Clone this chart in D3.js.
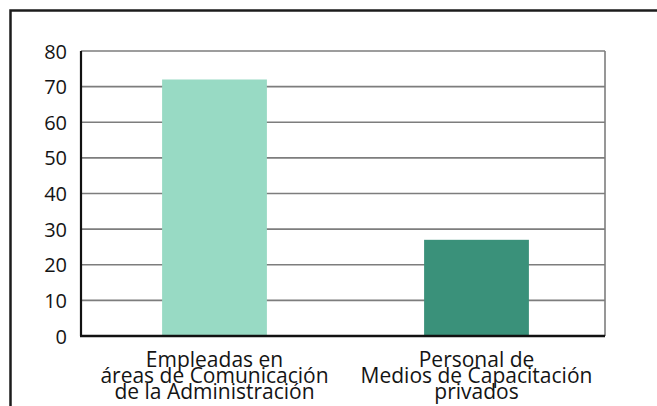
<!DOCTYPE html>
<html>
<head>
<meta charset="utf-8">
<script src="https://cdn.jsdelivr.net/npm/d3@7"></script>
<style>
  body { margin: 0; background: #fff; }
  text { font-family: "Open Sans", sans-serif; fill: #141414; }
</style>
</head>
<body>
<div id="chart"></div>
<script>
// data
const categories = [
  ['Empleadas en', 'áreas de Comunicación', 'de la Administración'],
  ['Personal de', 'Medios de Capacitación', 'privados']
];
const values = [72, 27];
const yTicks = [0, 10, 20, 30, 40, 50, 60, 70, 80];
const barColors = ['#98dac4', '#3a917a'];

const W = 657, H = 406;
const margin = {top: 51, right: 52, bottom: 70, left: 81};
const width = W - margin.left - margin.right,
    height = H - margin.top - margin.bottom;

const root = d3.select('#chart').append('svg')
  .attr('width', W)
  .attr('height', H);

// outer frame (runs off the right/bottom edge like the source)
root.append('rect')
  .attr('x', 10.5).attr('y', 10.5)
  .attr('width', 700).attr('height', 500)
  .attr('fill', 'none')
  .attr('stroke', '#1c1c1c')
  .attr('stroke-width', 2.5);

const svg = root.append('g')
  .attr('transform', `translate(${margin.left},${margin.top})`);

const x = d3.scaleBand()
  .domain(d3.range(categories.length))
  .range([2.5, width + 2.5])
  .paddingInner(0.6)
  .paddingOuter(0.3);

const y = d3.scaleLinear()
  .domain([0, 80])
  .range([height, 0]);

// gridlines
svg.append('g')
  .selectAll('line')
  .data(yTicks.filter(d => d > 0))
  .enter()
  .append('line')
  .attr('x1', 0).attr('x2', width)
  .attr('y1', d => y(d)).attr('y2', d => y(d))
  .attr('stroke', '#7d7d7d')
  .attr('stroke-width', 1.6);

// right border of plot
svg.append('line')
  .attr('x1', width).attr('x2', width)
  .attr('y1', y(80)).attr('y2', height)
  .attr('stroke', '#7d7d7d')
  .attr('stroke-width', 1.6);

// bars
svg.append('g')
  .selectAll('rect')
  .data(values)
  .enter()
  .append('rect')
  .attr('x', (d, i) => x(i))
  .attr('y', d => y(d))
  .attr('width', x.bandwidth())
  .attr('height', d => height - y(d))
  .attr('fill', (d, i) => barColors[i]);

// y axis
const yAxis = svg.append('g')
  .call(d3.axisLeft(y).tickValues(yTicks).tickSize(0).tickPadding(14));
yAxis.select('.domain').remove();
yAxis.selectAll('text')
  .style('font-size', '20px')
  .attr('dy', '0.35em');

svg.append('line')
  .attr('x1', 0).attr('x2', 0)
  .attr('y1', y(80)).attr('y2', height)
  .attr('stroke', '#111')
  .attr('stroke-width', 2.2);

svg.append('line')
  .attr('x1', -1).attr('x2', width)
  .attr('y1', height).attr('y2', height)
  .attr('stroke', '#111')
  .attr('stroke-width', 2.4);

// category labels (tightly stacked, as in the source)
const lab = svg.append('g')
  .selectAll('text')
  .data(categories)
  .enter()
  .append('text')
  .attr('x', (d, i) => x(i) + x.bandwidth() / 2)
  .attr('y', height + 31)
  .attr('text-anchor', 'middle')
  .style('font-size', '21px');

lab.selectAll('tspan')
  .data(d => d)
  .enter()
  .append('tspan')
  .attr('x', function() { return d3.select(this.parentNode).attr('x'); })
  .attr('dy', (d, i) => i === 0 ? 0 : 16)
  .text(d => d);
</script>
</body>
</html>
